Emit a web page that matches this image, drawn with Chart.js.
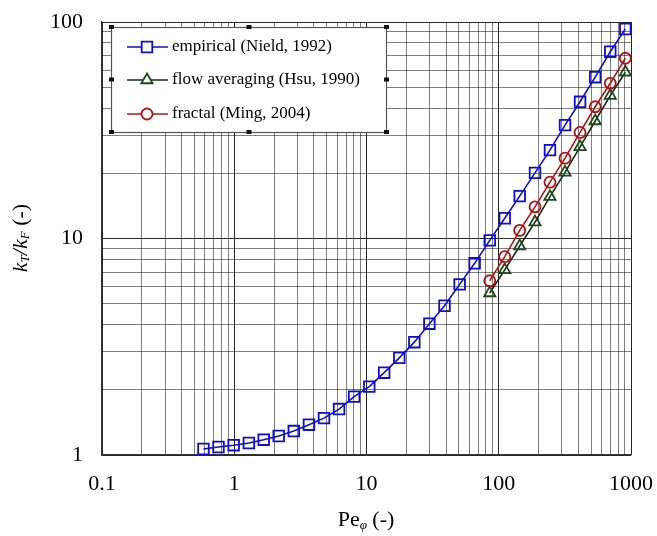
<!DOCTYPE html>
<html>
<head>
<meta charset="utf-8">
<script src="https://cdn.jsdelivr.net/npm/chart.js@4/dist/chart.umd.min.js"></script>
<style>
  html, body { margin: 0; padding: 0; background: #fff; }
</style>
</head>
<body>
<canvas id="chart" width="657" height="536"></canvas>
<script>
// Pe values (evenly spaced on the log axis)
const peEmpirical = [0.585, 0.76, 0.99, 1.29, 1.67, 2.17, 2.82, 3.67, 4.77, 6.2,
                     8.06, 10.5, 13.6, 17.7, 23.0, 29.9, 38.9, 50.6, 65.7, 85.5,
                     111, 144, 188, 244, 317, 412, 536, 697, 906];
const ktEmpirical = [1.066, 1.089, 1.11, 1.136, 1.177, 1.224, 1.29, 1.38, 1.48, 1.63,
                     1.86, 2.07, 2.40, 2.81, 3.32, 4.04, 4.89, 6.14, 7.68, 9.8,
                     12.4, 15.7, 20.1, 25.6, 33.4, 42.8, 55.6, 72.9, 92.8];
const peModels = [85.5, 111, 144, 188, 244, 317, 412, 536, 697, 906];
const ktFlowAveraging = [5.6, 7.16, 9.23, 11.9, 15.6, 20.2, 26.5, 34.9, 45.7, 58.6];
const ktFractal = [6.38, 8.24, 10.9, 14.0, 18.2, 23.5, 30.9, 40.6, 52.1, 68.0];

const seriesNames = ['empirical (Nield, 1992)', 'flow averaging (Hsu, 1990)', 'fractal (Ming, 2004)'];
const xMajorTicks = [0.1, 1, 10, 100, 1000];
const yMajorTicks = [1, 10, 100];

const SERIF = '"Liberation Serif", "DejaVu Serif", serif';
const BLUE = '#0c0cd6';
const RED = '#b31212';
const GREEN = '#1d4a1d';
const GREEN_LINE = '#142814';

function toPoints(xs, ys) {
    return xs.map((x, i) => ({ x: x, y: ys[i] }));
}

// 1..9 x 10^n between the major decades, for the grid
function logGridTicks(majors) {
    const out = [];
    for (let i = 0; i < majors.length - 1; i++) {
        for (let m = 1; m <= 9; m++) out.push({ value: +(m * majors[i]).toPrecision(6) });
    }
    out.push({ value: majors[majors.length - 1] });
    return out;
}

function isDecade(v) {
    const l = Math.log10(v);
    return Math.abs(l - Math.round(l)) < 1e-9;
}

const gridColor = ctx => (ctx.tick && isDecade(ctx.tick.value)) ? 'rgba(0,0,0,0.85)' : 'rgba(0,0,0,0.5)';

// draw a run of text pieces (for subscripts)
function drawPieces(ctx, pieces, cx, cy) {
    let total = 0;
    pieces.forEach(p => {
        ctx.font = p.font;
        p.w = ctx.measureText(p.t).width;
        total += p.w;
    });
    let x = cx - total / 2;
    ctx.textBaseline = 'middle';
    ctx.textAlign = 'left';
    pieces.forEach(p => {
        ctx.font = p.font;
        ctx.fillText(p.t, x, cy + (p.dy || 0));
        x += p.w;
    });
}

const extrasPlugin = {
    id: 'extras',
    afterDraw(chart) {
        const ctx = chart.ctx;
        ctx.save();
        ctx.fillStyle = '#000';

        // axis titles
        const big = 'italic 22px ' + SERIF;
        const sub = 'italic 13px ' + SERIF;
        ctx.save();
        ctx.translate(21, 238);
        ctx.rotate(-Math.PI / 2);
        drawPieces(ctx, [
            { t: 'k', font: big },
            { t: 'T', font: sub, dy: 5 },
            { t: '/', font: big },
            { t: 'k', font: big },
            { t: 'F', font: sub, dy: 5 },
            { t: ' (-)', font: '22px ' + SERIF }
        ], 0, 0);
        ctx.restore();

        drawPieces(ctx, [
            { t: 'Pe', font: '22px ' + SERIF },
            { t: 'φ', font: 'italic 13px ' + SERIF, dy: 6 },
            { t: ' (-)', font: '22px ' + SERIF }
        ], 366, 520);

        // legend box
        const bx = 111, by = 27, bw = 275, bh = 105;
        ctx.fillStyle = '#fff';
        ctx.fillRect(bx, by, bw, bh);
        ctx.strokeStyle = '#555';
        ctx.lineWidth = 1.2;
        ctx.strokeRect(bx + 0.5, by + 0.5, bw, bh);
        ctx.fillStyle = '#111';
        [[bx, by], [bx + bw / 2, by], [bx + bw, by], [bx, by + bh / 2], [bx + bw, by + bh / 2],
         [bx, by + bh], [bx + bw / 2, by + bh], [bx + bw, by + bh]].forEach(h => {
            ctx.fillRect(h[0] - 2, h[1] - 2, 5, 4);
        });

        const rows = [47, 80, 114];
        chart.data.datasets.forEach((ds, i) => {
            const y = rows[i];
            ctx.strokeStyle = ds.borderColor;
            ctx.lineWidth = 1.6;
            ctx.beginPath();
            ctx.moveTo(127, y);
            ctx.lineTo(168, y);
            ctx.stroke();
            ctx.fillStyle = '#fff';
            ctx.strokeStyle = ds.pointBorderColor;
            ctx.lineWidth = ds.pointBorderWidth;
            Chart.helpers.drawPoint(ctx, {
                pointStyle: ds.pointStyle,
                radius: ds.pointRadius,
                borderWidth: ds.pointBorderWidth
            }, 147, y);
            ctx.fillStyle = '#000';
            ctx.font = '17px ' + SERIF;
            ctx.textAlign = 'left';
            ctx.textBaseline = 'middle';
            ctx.fillText(ds.label, 172, y);
        });
        ctx.restore();
    }
};

new Chart(document.getElementById('chart'), {
    type: 'scatter',
    data: {
        datasets: [
            {
                label: seriesNames[0],
                data: toPoints(peEmpirical, ktEmpirical),
                showLine: true,
                borderColor: BLUE,
                borderWidth: 1.6,
                pointStyle: 'rect',
                pointRadius: 7.5,
                pointBorderColor: BLUE,
                pointBackgroundColor: 'rgba(0,0,0,0)',
                pointBorderWidth: 1.8,
                order: 1
            },
            {
                label: seriesNames[1],
                data: toPoints(peModels, ktFlowAveraging),
                showLine: true,
                borderColor: GREEN_LINE,
                borderWidth: 1.6,
                pointStyle: 'triangle',
                pointRadius: 6.5,
                pointBorderColor: GREEN,
                pointBackgroundColor: 'rgba(0,0,0,0)',
                pointBorderWidth: 1.8,
                order: 3
            },
            {
                label: seriesNames[2],
                data: toPoints(peModels, ktFractal),
                showLine: true,
                borderColor: RED,
                borderWidth: 1.6,
                pointStyle: 'circle',
                pointRadius: 5.5,
                pointBorderColor: RED,
                pointBackgroundColor: 'rgba(0,0,0,0)',
                pointBorderWidth: 1.8,
                order: 2
            }
        ]
    },
    options: {
        responsive: false,
        animation: false,
        devicePixelRatio: 1,
        layout: { padding: { top: 22, right: 26, left: 0, bottom: 0 } },
        plugins: {
            legend: { display: false },
            tooltip: { enabled: false }
        },
        scales: {
            x: {
                type: 'logarithmic',
                min: 0.1,
                max: 1000,
                afterBuildTicks: s => { s.ticks = logGridTicks(xMajorTicks); },
                afterFit: s => {
                    s.height = 81;
                    s.paddingLeft = 0;
                    s.paddingRight = 0;
                },
                ticks: {
                    autoSkip: false,
                    maxRotation: 0,
                    padding: 16,
                    color: '#000',
                    font: { family: SERIF, size: 22 },
                    callback: v => xMajorTicks.includes(v) ? String(v) : ''
                },
                grid: { color: gridColor, lineWidth: 1, drawTicks: false },
                border: { color: '#333', width: 1.2 }
            },
            y: {
                type: 'logarithmic',
                min: 1,
                max: 100,
                afterBuildTicks: s => { s.ticks = logGridTicks(yMajorTicks); },
                afterFit: s => {
                    s.width = 102;
                    s.paddingTop = 0;
                    s.paddingBottom = 0;
                },
                ticks: {
                    autoSkip: false,
                    padding: 19,
                    color: '#000',
                    font: { family: SERIF, size: 22 },
                    callback: v => yMajorTicks.includes(v) ? String(v) : ''
                },
                grid: { color: gridColor, lineWidth: 1, drawTicks: false },
                border: { color: '#333', width: 1.2 }
            }
        }
    },
    plugins: [extrasPlugin]
});
</script>
</body>
</html>
